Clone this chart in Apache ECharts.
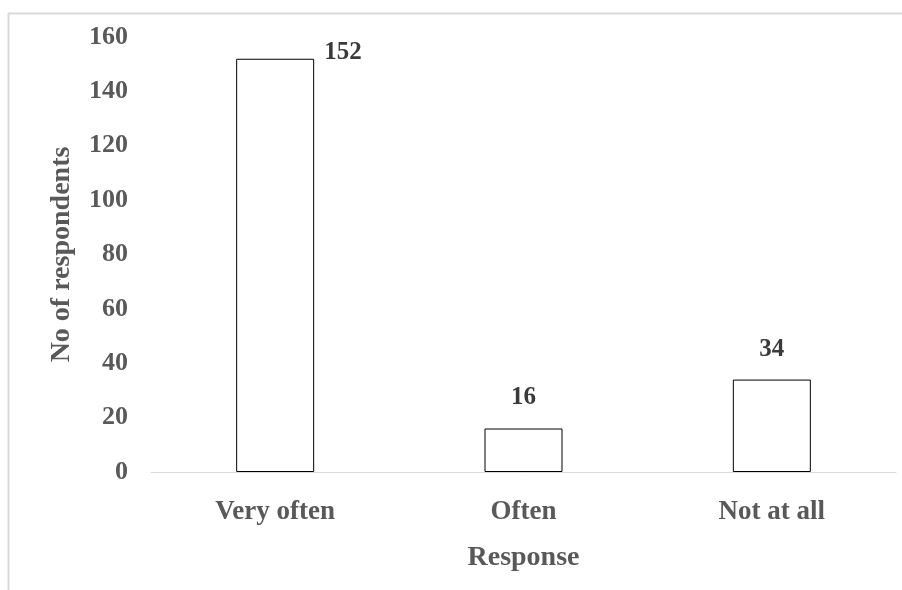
<!DOCTYPE html>
<html><head><meta charset="utf-8">
<script src="https://cdn.jsdelivr.net/npm/echarts@6/dist/echarts.min.js"></script>
<style>html,body{margin:0;padding:0;background:#fff}#c{width:902px;height:590px}</style>
</head><body><div id="c"></div>
<script>
const categories = ["Very often", "Often", "Not at all"];
const respondents = [152, 16, 34];
const yTicks = [0, 20, 40, 60, 80, 100, 120, 140, 160];

const font = '"Liberation Serif", "Times New Roman", serif';
const txt = '#595959';
const chart = echarts.init(document.getElementById('c'));
chart.setOption({
  animation: false,
  backgroundColor: '#fff',
  graphic: [
    { type: 'line', shape: { x1: 8, y1: 13.5, x2: 902, y2: 13.5 }, style: { stroke: '#d9d9d9', lineWidth: 2 } },
    { type: 'line', shape: { x1: 8.5, y1: 13, x2: 8.5, y2: 590 }, style: { stroke: '#d9d9d9', lineWidth: 2 } }
  ],
  grid: { left: 151, right: 6, top: 37, bottom: 118 },
  xAxis: {
    type: 'category', data: categories,
    name: 'Response', nameLocation: 'middle', nameGap: 72,
    nameTextStyle: { fontFamily: font, fontWeight: 'bold', fontSize: 28, color: txt },
    axisLine: { lineStyle: { color: '#d9d9d9', width: 1 } },
    axisTick: { show: false },
    axisLabel: { fontFamily: font, fontWeight: 'bold', fontSize: 27, color: txt, margin: 27 }
  },
  yAxis: {
    type: 'value', min: yTicks[0], max: yTicks[yTicks.length - 1], interval: 20,
    name: 'No of respondents', nameLocation: 'middle', nameGap: 75, nameRotate: 90,
    nameTextStyle: { fontFamily: font, fontWeight: 'bold', fontSize: 28, color: txt },
    axisLine: { show: false }, axisTick: { show: false }, splitLine: { show: false },
    axisLabel: { fontFamily: font, fontWeight: 'bold', fontSize: 26, color: txt, margin: 23 }
  },
  series: [{
    type: 'bar', barWidth: 78,
    data: respondents.map((v, i) => ({
      value: v,
      label: i === 0 ? { position: [88, -6], align: 'left', verticalAlign: 'middle' } : {}
    })),
    itemStyle: { color: '#fff', borderColor: '#000', borderWidth: 1 },
    label: { show: true, position: 'top', distance: 18, fontFamily: font, fontWeight: 'bold', fontSize: 25, color: '#3a3a3a' }
  }]
});
</script></body></html>
